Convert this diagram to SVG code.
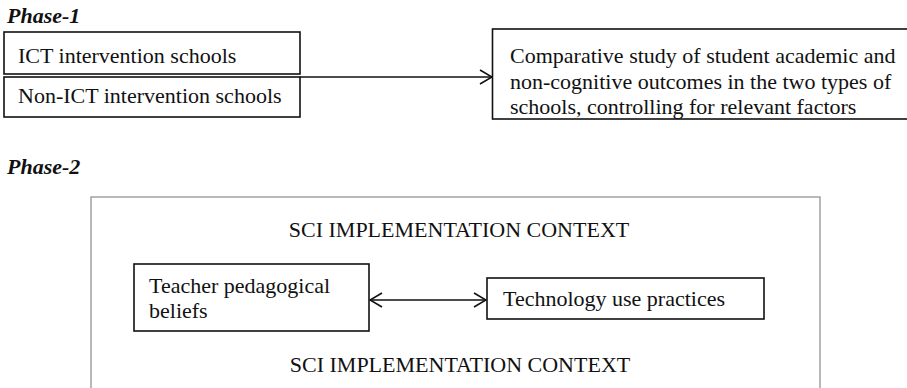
<svg xmlns="http://www.w3.org/2000/svg" width="907" height="388" viewBox="0 0 907 388">
<style>
text{font-family:"Liberation Serif","Times New Roman",serif;font-size:22px;fill:#111}
.ph{font-weight:bold;font-style:italic}
.box{fill:#fff;stroke:#111;stroke-width:1.6}
.ctx{fill:#fff;stroke:#8a8a8a;stroke-width:1.2}
.con{stroke:#111;stroke-width:1.6;fill:none}
</style>
<defs>
<marker id="ah" viewBox="0 0 14 16" refX="13" refY="8" markerWidth="14" markerHeight="16" markerUnits="userSpaceOnUse" orient="auto-start-reverse">
<path d="M1 1 L13 8 L1 15" fill="none" stroke="#111" stroke-width="1.6"/>
</marker>
</defs>
<rect width="907" height="388" fill="#fff"/>
<text class="ph" x="7" y="23">Phase-1</text>
<text class="ph" x="7" y="174">Phase-2</text>
<g id="ctx">
<rect class="ctx" x="91" y="197" width="729" height="220"/>
<text x="459" y="237" text-anchor="middle">SCI IMPLEMENTATION CONTEXT</text>
<text x="460" y="372" text-anchor="middle">SCI IMPLEMENTATION CONTEXT</text>
</g>
<g id="ict">
<rect class="box" x="4" y="32" width="296" height="42"/>
<text x="18" y="63">ICT intervention schools</text>
</g>
<g id="nonict">
<rect class="box" x="4" y="77" width="296" height="40"/>
<text x="18" y="103">Non-ICT intervention schools</text>
</g>
<g id="study">
<rect class="box" x="492.5" y="29" width="420" height="90"/>
<text x="510" y="63">Comparative study of student academic and</text>
<text x="510" y="89">non-cognitive outcomes in the two types of</text>
<text x="510" y="114">schools, controlling for relevant factors</text>
</g>
<g id="teacher">
<rect class="box" x="134" y="264" width="235" height="67"/>
<text x="149" y="293">Teacher pedagogical</text>
<text x="149" y="318">beliefs</text>
</g>
<g id="tech">
<rect class="box" x="487" y="278" width="277" height="41"/>
<text x="503" y="306">Technology use practices</text>
</g>
<g id="connectors">
<line class="con" x1="300" y1="77" x2="492" y2="77" marker-end="url(#ah)"/>
<line class="con" x1="370" y1="300" x2="486" y2="300" marker-start="url(#ah)" marker-end="url(#ah)"/>
</g>
</svg>
